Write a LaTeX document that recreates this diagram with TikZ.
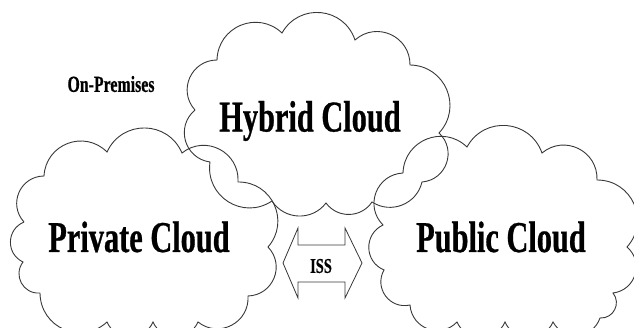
\documentclass[tikz,border=0pt]{standalone}
\usepackage{fontspec}
\setmainfont{Liberation Serif}
\newfontfamily\narrowserif[FakeStretch=0.69,FakeBold=0.6]{Liberation Serif}
\begin{document}
\begin{tikzpicture}[x=1pt,y=-1pt,
  outline/.style={draw=black!78, line width=0.9pt, line join=miter},
  lobe/.style={bend left=66, looseness=1.22},
  flatlobe/.style={bend left=55, looseness=1.08},
  biglabel/.style={font=\narrowserif\bfseries\fontsize{44}{48}\selectfont, inner sep=0pt},
  smalllabel/.style={font=\narrowserif\bfseries\fontsize{23}{26}\selectfont, inner sep=0pt}]
  \useasboundingbox (0,0) rectangle (634,328);
  \clip (0,0) rectangle (634,328);

  % hybrid cloud: notches between puffs, clockwise
  \coordinate (h1) at (195,110);  \coordinate (h2) at (217,60);
  \coordinate (h3) at (282,33);   \coordinate (h4) at (355,40);
  \coordinate (h5) at (410,65);   \coordinate (h6) at (439,133);
  \coordinate (h7) at (422,182);  \coordinate (h8) at (372,202);
  \coordinate (h9) at (326,203);  \coordinate (h10) at (272,201);
  \coordinate (h11) at (210,162);
  \draw[outline] (h1) to[lobe] (h2) to[lobe] (h3) to[lobe] (h4) to[lobe] (h5)
    to[lobe] (h6) to[lobe] (h7) to[flatlobe] (h8) to[flatlobe] (h9)
    to[flatlobe] (h10) to[lobe] (h11) to[lobe] (h1);

  % private cloud
  \coordinate (p1) at (24,222);   \coordinate (p2) at (44,176);
  \coordinate (p3) at (107,152);  \coordinate (p4) at (182,153);
  \coordinate (p5) at (238,182);  \coordinate (p6) at (268,247);
  \coordinate (p7) at (248,296);  \coordinate (p8) at (198,322);
  \coordinate (p9) at (153,322);  \coordinate (p10) at (107,322);
  \coordinate (p11) at (40,293);  \coordinate (p12) at (23,262);
  \draw[outline] (p1) to[lobe] (p2) to[lobe] (p3) to[lobe] (p4) to[lobe] (p5)
    to[lobe] (p6) to[lobe] (p7) to[lobe] (p8) to[lobe] (p9) to[lobe] (p10)
    to[lobe] (p11) to[lobe] (p12) to[lobe] (p1);

  % public cloud
  \coordinate (q1) at (403,173);  \coordinate (q2) at (467,147);
  \coordinate (q3) at (542,153);  \coordinate (q4) at (597,180);
  \coordinate (q5) at (627,247);  \coordinate (q6) at (613,293);
  \coordinate (q7) at (600,318);  \coordinate (q8) at (553,322);
  \coordinate (q9) at (505,322);  \coordinate (q10) at (457,322);
  \coordinate (q11) at (410,305); \coordinate (q12) at (384,270);
  \coordinate (q13) at (383,225);
  \draw[outline] (q1) to[lobe] (q2) to[lobe] (q3) to[lobe] (q4) to[lobe] (q5)
    to[lobe] (q6) to[lobe] (q7) to[lobe] (q8) to[lobe] (q9) to[lobe] (q10)
    to[lobe] (q11) to[lobe] (q12) to[lobe] (q13) to[lobe] (q1);

  % labels
  \node[biglabel] (hybridtext) at (310,121) {Hybrid Cloud};
  \node[biglabel] (privatetext) at (139,237) {Private Cloud};
  \node[biglabel] (publictext) at (501,237) {Public Cloud};
  \node[smalllabel] (onprem) at (111,84) {On-Premises};

  % two-way ISS arrow
  \coordinate (al) at (283,263);  \coordinate (ar) at (362,263);
  \draw[outline, line width=0.8pt] (al) -- (298,228) -- (298,245) -- (345,245)
    -- (345,228) -- (ar) -- (345,298) -- (345,282) -- (298,282) -- (298,298) -- cycle;
  \node[font=\narrowserif\bfseries\fontsize{21}{24}\selectfont, inner sep=0pt]
    (isstext) at (321,266) {ISS};
\end{tikzpicture}
\end{document}
